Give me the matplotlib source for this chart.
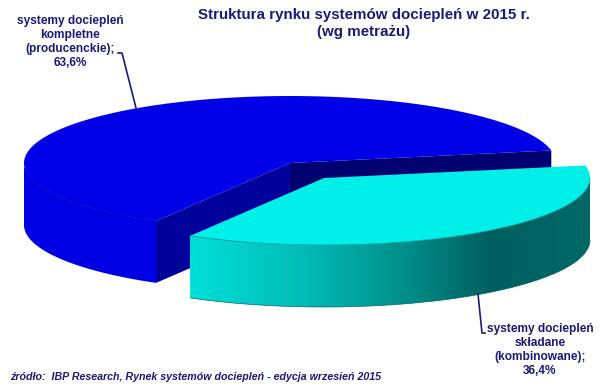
import numpy as np
import matplotlib
matplotlib.use('Agg')
import matplotlib.pyplot as plt
from matplotlib.patches import Polygon
from matplotlib.colors import LinearSegmentedColormap

plt.rcParams['font.family'] = ['Liberation Sans', 'DejaVu Sans']

labels = ['systemy dociepleń\nkompletne\n(producenckie);\n63,6%',
          'systemy dociepleń\nskładane\n(kombinowane);\n36,4%']
shares = [63.6, 36.4]
title = 'Struktura rynku systemów dociepleń w 2015 r.\n(wg metrażu)'
source = 'źródło:  IBP Research, Rynek systemów dociepleń - edycja wrzesień 2015'

# pie geometry in pixels
rx, ry, depth = 266, 67, 62
start = 10.8
cx, cy = 290, 163
ex, ey = 34, 15
navy = '#1a1a78'


def arc(x0, y0, t1, t2, n=200):
    t = np.radians(np.linspace(t1, t2, n))
    return np.column_stack([x0 + rx*np.cos(t), y0 - ry*np.sin(t)])


def side_pts(x0, y0, t1, t2):
    # only the part of the rim facing the viewer
    t1, t2 = max(t1, 180), min(t2, 360)
    top = arc(x0, y0, t1, t2)
    bottom = top[::-1] + [0, depth]
    return np.vstack([top, bottom])


fig = plt.figure(figsize=(6, 3.92), dpi=100)
ax = fig.add_axes([0, 0, 1, 1])
ax.set_xlim(0, 600)
ax.set_ylim(392, 0)
ax.axis('off')

blue_end = start + shares[0]*3.6
cyan_end = blue_end + shares[1]*3.6

# blue slice
ax.add_patch(Polygon(side_pts(cx, cy, start, blue_end), fc='#0000e4', ec='none', zorder=1))
p_end = arc(cx, cy, blue_end, blue_end, 1)[0]
p_start = arc(cx, cy, start, start, 1)[0]
ax.add_patch(Polygon([[cx, cy], p_start, p_start + [0, depth], [cx, cy + depth]],
                     fc='#000070', ec='none', zorder=2))
ax.add_patch(Polygon([[cx, cy], p_end, p_end + [0, depth], [cx, cy + depth]],
                     fc='#00009c', ec='none', zorder=3))
top = np.vstack([[cx, cy], arc(cx, cy, start, blue_end)])
ax.add_patch(Polygon(top, fc='#0000e8', ec='none', zorder=4))
rim = arc(cx, cy, 186, blue_end)
ax.plot(rim[:, 0], rim[:, 1], color='#0000c4', lw=0.5, zorder=5)

# cyan slice, pulled out of the pie
cx2, cy2 = cx + ex, cy + ey
pts = side_pts(cx2, cy2, blue_end, cyan_end)
clip = Polygon(pts, fc='none', ec='none', zorder=6)
ax.add_patch(clip)
cmap = LinearSegmentedColormap.from_list('teal', [(0.0, '#00dfd9'), (0.28, '#00bcb6'),
                                                  (0.55, '#008c88'), (0.75, '#005f5e'),
                                                  (1.0, '#006866')])
img = ax.imshow(np.linspace(0, 1, 256).reshape(1, -1), cmap=cmap, aspect='auto',
                extent=[pts[:, 0].min(), pts[:, 0].max(), 392, 0], zorder=6)
img.set_clip_path(clip)
ax.set_xlim(0, 600)
ax.set_ylim(392, 0)
ax.plot(pts[200:, 0], pts[200:, 1], color='#006a68', lw=0.5, zorder=7)
top2 = np.vstack([[cx2, cy2], arc(cx2, cy2, blue_end, cyan_end)])
ax.add_patch(Polygon(top2, fc='#00efe9', ec='none', zorder=8))
rim2 = arc(cx2, cy2, blue_end, 360)
ax.plot(rim2[:, 0], rim2[:, 1], color='#009a98', lw=0.5, zorder=9)

# leader lines
ax.plot([118, 122, 136], [53, 53, 108], color=navy, lw=1.2, zorder=10)
ax.plot([478, 482, 485], [294, 333, 333], color=navy, lw=1.2, zorder=10)

ax.text(363.5, 23.5, title, ha='center', va='center', fontsize=10.9, fontweight='bold',
        color=navy, linespacing=1.32)
ax.text(70, 42, labels[0], ha='center', va='center', fontsize=8.6, fontweight='bold',
        color=navy, linespacing=1.25)
ax.text(540, 350, labels[1], ha='center', va='center', fontsize=8.6, fontweight='bold',
        color=navy, linespacing=1.25)
ax.text(10, 377, source, ha='left', va='center', fontsize=7.67, fontweight='bold',
        fontstyle='italic', color=navy)

fig.savefig('out.png', dpi=100)
